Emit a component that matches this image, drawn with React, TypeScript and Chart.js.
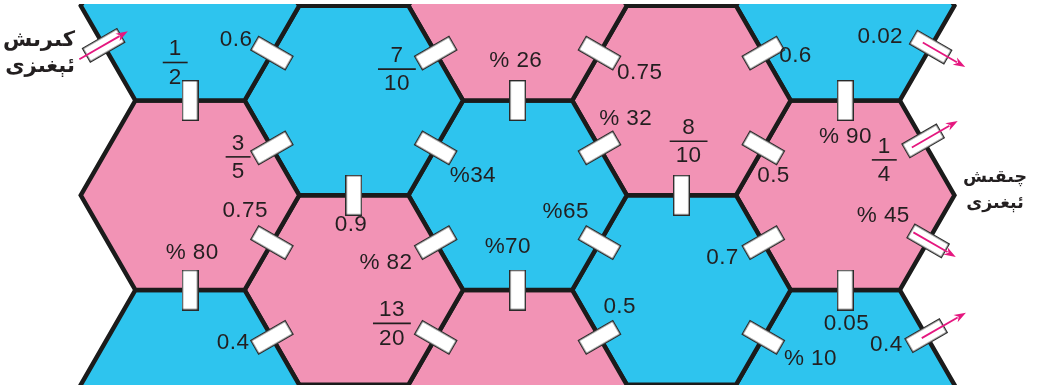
import { useEffect, useRef } from 'react';
import { Chart, registerables } from 'chart.js';

Chart.register(...registerables);

// ---- data ----
// honeycomb cells: column index, half-row index, colour kind (b = blue, p = pink)
const hexCol = [0, 0, 0, 1, 1, 2, 2, 2, 3, 3, 4, 4, 4];
const hexRow = [0, 2, 4, 1, 3, 0, 2, 4, 1, 3, 0, 2, 4];
const hexKind = ['b', 'p', 'b', 'b', 'p', 'p', 'b', 'p', 'p', 'b', 'b', 'p', 'b'];

// doors: which cell, which edge of it, and the label written beside it
const doorHex = [0, 0, 0, 1, 3, 3, 5, 5, 6, 8, 8, 8, 10, 10, 11, 11, 11, 12, 9, 9, 7, 6, 6, 4, 4, 3, 1, 1, 2];
const doorEdge = ['SW', 'S', 'SE', 'NE', 'NE', 'SE', 'S', 'SE', 'NE', 'S', 'NE', 'SE', 'S', 'SE', 'NE', 'SE', 'S', 'NE', 'SE', 'NE', 'NE', 'SE', 'S', 'NE', 'SE', 'S', 'SE', 'S', 'NE'];
const doorLabel = ['', '1/2', '0.6', '3/5', '7/10', '%34', '% 26', '0.75', '% 32', '8/10', '0.6', '0.5', '% 90', '0.02', '1/4', '% 45', '0.05', '0.4', '% 10', '0.7', '0.5', '%65', '%70', '% 82', '13/20', '0.9', '0.75', '% 80', '0.4'];

// entrance / exit arrows (door indices)
const arrowDoor = [0, 13, 14, 15, 17];

const entryText = ['كىرىش', 'ئېغىزى'];
const exitText = ['چىقىش', 'ئېغىزى'];

// ---- layout (positions / sizes / styles) ----
const X0 = 190;
const DX = 163.8;
const Y0 = 5.75;
const H = 94.75; // half height of a cell
const R = 109.2; // half width of a cell
const COLORS: Record<string, string> = { b: '#2EC4EE', p: '#F293B5' };
const doorShift = [-9, 0, 0, 0, 0, 0, 0, 0, 0, 0, 0, 0, 0, -7, -8, -2, 0, -2, 0, 0, 0, 0, 0, 0, 0, 0, 0, 0, 0];
const labelDX = [0, -15, -36, -34, -39, 37, -2, 40, 26, 7, 32, 10, 0, -47, -43, -44, 1, -41, 47, -41, 20, -34, -10, -50, -44, -3, -27, 2, -39];
const labelDY = [0, -38, -13, 9, 16, 28, -40, 20, -29, -54, 3, 28, 36, -16, 12, -27, 34, 7, 21, 15, -31, -31, -43, 20, -14, 30, -32, -37, 5];
const arrowFrom = [-28, -9, -13, -17, -5];
const arrowTo = [28, 40, 40, 32, 46];

function hexCenter(i: number) {
  return { x: X0 + hexCol[i] * DX, y: Y0 + hexRow[i] * H };
}

function hexVertices(i: number) {
  const c = hexCenter(i);
  const v = [
    { x: c.x - R / 2, y: c.y - H },
    { x: c.x + R / 2, y: c.y - H },
    { x: c.x + R, y: c.y },
    { x: c.x + R / 2, y: c.y + H },
    { x: c.x - R / 2, y: c.y + H },
    { x: c.x - R, y: c.y },
  ];
  return [...v, v[0], v[1]];
}

function doorGeom(k: number) {
  const c = hexCenter(doorHex[k]);
  const e = doorEdge[k];
  let x = c.x, y = c.y, rot = 0, ux = 0, uy = -1;
  const nl = Math.hypot(R / 2, H);
  if (e === 'S') { y = c.y + H; }
  else if (e === 'N') { y = c.y - H; }
  else if (e === 'NE') { x = c.x + 0.75 * R; y = c.y - H / 2; rot = 60; ux = -R / 2 / nl; uy = -H / nl; }
  else if (e === 'SW') { x = c.x - 0.75 * R; y = c.y + H / 2; rot = 60; ux = -R / 2 / nl; uy = -H / nl; }
  else if (e === 'SE') { x = c.x + 0.75 * R; y = c.y + H / 2; rot = -60; ux = R / 2 / nl; uy = -H / nl; }
  else if (e === 'NW') { x = c.x - 0.75 * R; y = c.y - H / 2; rot = -60; ux = R / 2 / nl; uy = -H / nl; }
  const mx = x, my = y;
  const s = -doorShift[k];
  if (e !== 'S' && e !== 'N') { x += ux * s; y += uy * s; }
  const a = ((90 + rot) * Math.PI) / 180;
  let ax = Math.cos(a), ay = Math.sin(a);
  if (ax < 0) { ax = -ax; ay = -ay; }
  return { x, y, mx, my, rot, ax, ay };
}

function makeDoorImage() {
  const c = document.createElement('canvas');
  c.width = 17;
  c.height = 41;
  const g = c.getContext('2d')!;
  g.fillStyle = '#ffffff';
  g.fillRect(0, 0, 17, 41);
  g.strokeStyle = '#2a2a2a';
  g.lineWidth = 1.4;
  g.strokeRect(0.7, 0.7, 15.6, 39.6);
  return c;
}

const TEXT_COLOR = '#231F20';
const NUM_FONT = '"Liberation Sans", Arial, sans-serif';

const overlay = {
  id: 'mazeOverlay',
  afterDatasetsDraw(chart: any) {
    const { ctx } = chart;
    const xs = chart.scales.x;
    const ys = chart.scales.y;
    const px = (v: number) => xs.getPixelForValue(v);
    const py = (v: number) => ys.getPixelForValue(v);
    ctx.save();

    // arrows
    arrowDoor.forEach((d, i) => {
      const g = doorGeom(d);
      const sx = px(g.x + g.ax * arrowFrom[i]);
      const sy = py(g.y + g.ay * arrowFrom[i]);
      const ex = px(g.x + g.ax * arrowTo[i]);
      const ey = py(g.y + g.ay * arrowTo[i]);
      const len = Math.hypot(ex - sx, ey - sy);
      const ux = (ex - sx) / len, uy = (ey - sy) / len;
      const hl = 12, hw = 4.2;
      ctx.strokeStyle = '#E5177F';
      ctx.fillStyle = '#E5177F';
      ctx.lineWidth = 1.8;
      ctx.beginPath();
      ctx.moveTo(sx, sy);
      ctx.lineTo(ex - ux * hl * 0.8, ey - uy * hl * 0.8);
      ctx.stroke();
      ctx.beginPath();
      ctx.moveTo(ex, ey);
      ctx.lineTo(ex - ux * hl - uy * hw, ey - uy * hl + ux * hw);
      ctx.lineTo(ex - ux * hl * 0.7, ey - uy * hl * 0.7);
      ctx.lineTo(ex - ux * hl + uy * hw, ey - uy * hl - ux * hw);
      ctx.closePath();
      ctx.fill();
    });

    // labels
    ctx.fillStyle = TEXT_COLOR;
    ctx.strokeStyle = TEXT_COLOR;
    ctx.font = `22.5px ${NUM_FONT}`;
    ctx.textAlign = 'center';
    ctx.textBaseline = 'middle';
    ctx.direction = 'ltr';
    try { (ctx as any).letterSpacing = '0.4px'; } catch (e) { /* ignore */ }
    doorLabel.forEach((t, k) => {
      if (!t) return;
      const g = doorGeom(k);
      const lx = px(g.mx + labelDX[k]) + 0.2;
      const ly = py(g.my + labelDY[k]);
      if (t.includes('/')) {
        const [n, d] = t.split('/');
        const w = Math.max(ctx.measureText(n).width, ctx.measureText(d).width) + 12;
        ctx.fillText(n, lx, ly - 13.5);
        ctx.fillText(d, lx, ly + 15);
        ctx.lineWidth = 1.6;
        ctx.beginPath();
        ctx.moveTo(lx - w / 2, ly);
        ctx.lineTo(lx + w / 2, ly);
        ctx.stroke();
      } else {
        ctx.fillText(t, lx, ly);
      }
    });
    try { (ctx as any).letterSpacing = '0px'; } catch (e) { /* ignore */ }

    // entrance / exit captions
    const drawCaption = (lines: string[], cx: number[], cy: number[], width: number, weight: string) => {
      ctx.direction = 'rtl';
      ctx.font = `${weight} 20px "DejaVu Sans", sans-serif`;
      const m = ctx.measureText(lines[0]).width || 1;
      const size = (20 * width) / m;
      ctx.font = `${weight} ${size}px "DejaVu Sans", sans-serif`;
      lines.forEach((l, i) => ctx.fillText(l, px(cx[i]), py(cy[i])));
    };
    drawCaption(entryText, [39, 40], [41, 67], 72, 'bold');
    drawCaption(exitText, [995, 995], [177, 203], 64, 'bold');

    ctx.restore();
  },
};

export default function App() {
  const ref = useRef<HTMLCanvasElement>(null);
  useEffect(() => {
    document.body.style.margin = '0';
    const canvas = ref.current!;
    const doorImg = makeDoorImage();
    const hexSets = hexCol.map((_, i) => ({
      data: hexVertices(i),
      showLine: true,
      fill: 'shape',
      backgroundColor: COLORS[hexKind[i]],
      borderColor: '#1B1B1B',
      borderWidth: 4.5,
      borderJoinStyle: 'miter',
      pointRadius: 0,
      pointHoverRadius: 0,
      tension: 0,
      clip: 0,
      order: 10,
    }));
    const doors = doorHex.map((_, k) => {
      const g = doorGeom(k);
      return { x: g.x, y: g.y };
    });
    const doorRot = doorHex.map((_, k) => doorGeom(k).rot);
    const chart = new Chart(canvas, {
      type: 'scatter',
      data: {
        datasets: [
          {
            data: doors,
            showLine: false,
            pointStyle: doorImg as any,
            pointRotation: doorRot,
            pointRadius: 12,
            pointHoverRadius: 12,
            clip: false as any,
            order: 0,
          } as any,
          ...(hexSets as any[]),
        ],
      },
      options: {
        animation: false,
        responsive: false,
        devicePixelRatio: 1,
        events: [],
        layout: { autoPadding: false, padding: { top: 4, left: 0, right: 0, bottom: 0 } },
        scales: {
          x: { type: 'linear', min: 0, max: 1045, display: false },
          y: { type: 'linear', min: 4, max: 385, reverse: true, display: false },
        },
        plugins: { legend: { display: false }, tooltip: { enabled: false } },
      },
      plugins: [overlay],
    } as any);
    return () => chart.destroy();
  }, []);
  return (
    <div style={{ position: 'absolute', left: 0, top: 0, width: 1045, height: 385 }}>
      <canvas ref={ref} width={1045} height={385} style={{ display: 'block', width: 1045, height: 385 }} />
    </div>
  );
}
